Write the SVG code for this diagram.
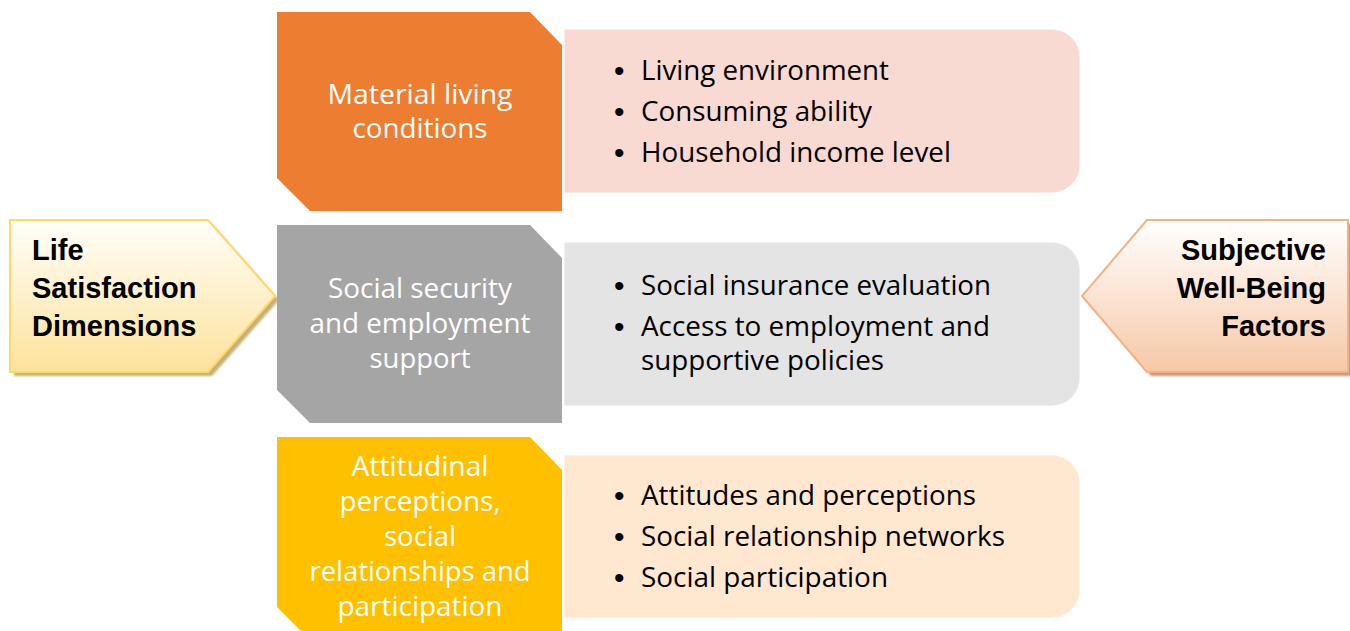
<svg xmlns="http://www.w3.org/2000/svg" width="1350" height="631" viewBox="0 0 1350 631">
<defs>
<linearGradient id="gLeft" x1="0" y1="0" x2="0" y2="1">
<stop offset="0" stop-color="#FFFEFA"/>
<stop offset="1" stop-color="#FDE29A"/>
</linearGradient>
<linearGradient id="gRight" x1="0" y1="0" x2="0" y2="1">
<stop offset="0" stop-color="#FFFFFF"/>
<stop offset="1" stop-color="#F7C8A7"/>
</linearGradient>
<filter id="blur" x="-5%" y="-5%" width="110%" height="110%"><feGaussianBlur stdDeviation="1"/></filter>
</defs>
<style>
.cat{font-family:"Open Sans","Liberation Sans",sans-serif;font-size:27px;fill:#FFFFFF;text-anchor:middle}
.item{font-family:"Open Sans","Liberation Sans",sans-serif;font-size:27px;fill:#000000}
.bul{font-family:"Liberation Sans",Arial,sans-serif;font-size:30px;fill:#000000}
.big{font-family:"Liberation Sans",Arial,sans-serif;font-size:29px;font-weight:bold;fill:#000000}
.list{stroke:#FFFFFF;stroke-opacity:0.6;stroke-width:1.5}
</style>

<g id="connectors"></g>

<g id="life-satisfaction">
<polygon points="14,224 212,224 279,300 212,376 14,376" fill="#C5B078" filter="url(#blur)"/>
<polygon points="10,220 208,220 275,296 208,372 10,372" fill="url(#gLeft)" stroke="#FFD966" stroke-width="2"/>
<text class="big" x="32" y="260">Life</text>
<text class="big" x="32" y="298">Satisfaction</text>
<text class="big" x="32" y="336">Dimensions</text>
</g>

<g id="subjective-wellbeing">
<polygon points="1151,224 1352,224 1352,376 1151,376 1086,300" fill="#C49A80" filter="url(#blur)"/>
<polygon points="1147,220 1348,220 1348,372 1147,372 1082,296" fill="url(#gRight)" stroke="#F4B183" stroke-width="2"/>
<text class="big" x="1326" y="260" text-anchor="end">Subjective</text>
<text class="big" x="1326" y="298" text-anchor="end">Well-Being</text>
<text class="big" x="1326" y="336" text-anchor="end">Factors</text>
</g>

<g id="material">
<polygon points="277,12 530,12 562,45 562,211 310,211 277,178" fill="#ED7D31"/>
<text class="cat" x="420" y="104" textLength="185" lengthAdjust="spacingAndGlyphs">Material living</text>
<text class="cat" x="420" y="138" textLength="135" lengthAdjust="spacingAndGlyphs">conditions</text>
</g>
<g id="material-list">
<path class="list" d="M564,29 H1052 A28,28 0 0 1 1080,57 V165 A28,28 0 0 1 1052,193 H564 Z" fill="#F8DAD3"/>
<text class="bul" x="614" y="81">•</text>
<text class="item" x="641" y="80" textLength="248" lengthAdjust="spacingAndGlyphs">Living environment</text>
<text class="bul" x="614" y="122">•</text>
<text class="item" x="641" y="121" textLength="231" lengthAdjust="spacingAndGlyphs">Consuming ability</text>
<text class="bul" x="614" y="163">•</text>
<text class="item" x="641" y="162" textLength="310" lengthAdjust="spacingAndGlyphs">Household income level</text>
</g>

<g id="social-security">
<polygon points="277,225 530,225 562,258 562,423 310,423 277,390" fill="#A5A5A5"/>
<text class="cat" x="420" y="298" textLength="184" lengthAdjust="spacingAndGlyphs">Social security</text>
<text class="cat" x="420" y="333" textLength="221" lengthAdjust="spacingAndGlyphs">and employment</text>
<text class="cat" x="420" y="368" textLength="101" lengthAdjust="spacingAndGlyphs">support</text>
</g>
<g id="social-security-list">
<path class="list" d="M564,242 H1052 A28,28 0 0 1 1080,270 V378 A28,28 0 0 1 1052,406 H564 Z" fill="#E4E4E4"/>
<text class="bul" x="614" y="296">•</text>
<text class="item" x="641" y="295" textLength="350" lengthAdjust="spacingAndGlyphs">Social insurance evaluation</text>
<text class="bul" x="614" y="337">•</text>
<text class="item" x="641" y="336" textLength="349" lengthAdjust="spacingAndGlyphs">Access to employment and</text>
<text class="item" x="641" y="370" textLength="243" lengthAdjust="spacingAndGlyphs">supportive policies</text>
</g>

<g id="attitudinal">
<polygon points="277,437 530,437 562,470 562,640 310,640 277,607" fill="#FFC000"/>
<text class="cat" x="420" y="476" textLength="137" lengthAdjust="spacingAndGlyphs">Attitudinal</text>
<text class="cat" x="420" y="511" textLength="161" lengthAdjust="spacingAndGlyphs">perceptions,</text>
<text class="cat" x="420" y="546" textLength="72" lengthAdjust="spacingAndGlyphs">social</text>
<text class="cat" x="420" y="581" textLength="221" lengthAdjust="spacingAndGlyphs">relationships and</text>
<text class="cat" x="420" y="616" textLength="165" lengthAdjust="spacingAndGlyphs">participation</text>
</g>
<g id="attitudinal-list">
<path class="list" d="M564,455 H1052 A28,28 0 0 1 1080,483 V590 A28,28 0 0 1 1052,618 H564 Z" fill="#FFE8CF"/>
<text class="bul" x="614" y="506">•</text>
<text class="item" x="641" y="505" textLength="335" lengthAdjust="spacingAndGlyphs">Attitudes and perceptions</text>
<text class="bul" x="614" y="547">•</text>
<text class="item" x="641" y="546" textLength="364" lengthAdjust="spacingAndGlyphs">Social relationship networks</text>
<text class="bul" x="614" y="588">•</text>
<text class="item" x="641" y="587" textLength="247" lengthAdjust="spacingAndGlyphs">Social participation</text>
</g>
</svg>
